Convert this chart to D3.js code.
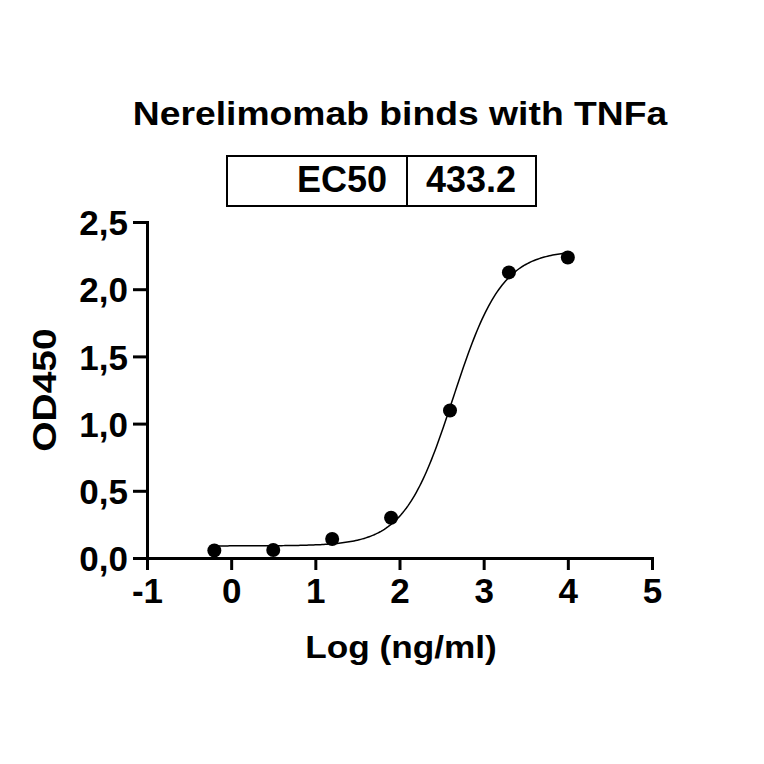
<!DOCTYPE html>
<html>
<head>
<meta charset="utf-8">
<script src="https://cdn.jsdelivr.net/npm/d3@7"></script>
<style>
  body { margin: 0; background: #fff; }
  text { font-family: 'Liberation Sans', Arial, sans-serif; font-weight: bold; fill: #000; }
</style>
</head>
<body>
<svg id="chart" width="764" height="764"></svg>
<script>
// measured points (log ng/ml vs OD450)
const logConc = [-0.2, 0.5, 1.2, 1.9, 2.6, 3.3, 4.0];
const od450 = [0.056, 0.06, 0.141, 0.30, 1.097, 2.125, 2.236];

// 4PL fit
const ec50 = 433.2;
const fitBottom = 0.09;
const fitTop = 2.29;
const hillSlope = 1.5;

const xTicks = [-1, 0, 1, 2, 3, 4, 5];
const yTicks = [0, 0.5, 1.0, 1.5, 2.0, 2.5];

const svg = d3.select('#chart');

const x = d3.scaleLinear().domain([-1, 5]).range([147, 652]);
const y = d3.scaleLinear().domain([0, 2.5]).range([558, 222]);

// Prism style: comma decimals, plain hyphen for negatives
const commaFmt = (d) => d.toFixed(1).replace('.', ',');
const intFmt = (d) => String(d);

// title
svg.append('text')
  .attr('transform', 'translate(400,125) scale(1.13,1)')
  .attr('text-anchor', 'middle')
  .style('font-size', '33px')
  .text('Nerelimomab binds with TNFa');

// EC50 box
const box = svg.append('g');
box.append('rect')
  .attr('x', 227).attr('y', 156)
  .attr('width', 309).attr('height', 50)
  .attr('fill', 'none').attr('stroke', '#000').attr('stroke-width', 2);
box.append('line')
  .attr('x1', 407).attr('x2', 407).attr('y1', 156).attr('y2', 206)
  .attr('stroke', '#000').attr('stroke-width', 2);
box.append('text')
  .attr('x', 387).attr('y', 192)
  .attr('text-anchor', 'end')
  .style('font-size', '36px')
  .text('EC50');
box.append('text')
  .attr('x', 471).attr('y', 192)
  .attr('text-anchor', 'middle')
  .style('font-size', '36px')
  .text(ec50.toFixed(1));

// axes
const yAxis = svg.append('g')
  .attr('transform', `translate(${x(-1)},0)`)
  .call(d3.axisLeft(y).tickValues(yTicks).tickFormat(commaFmt).tickSize(14).tickSizeOuter(0).tickPadding(5));
const xAxis = svg.append('g')
  .attr('transform', `translate(0,${y(0)})`)
  .call(d3.axisBottom(x).tickValues(xTicks).tickFormat(intFmt).tickSize(12).tickSizeOuter(0).tickPadding(7));

[yAxis, xAxis].forEach((g) => {
  g.select('.domain').attr('stroke-width', 3).attr('stroke-linecap', 'square');
  g.selectAll('.tick line').attr('stroke-width', 3);
  g.selectAll('.tick text').style('font-size', '35px').attr('fill', '#000');
});
yAxis.selectAll('.tick text').attr('dy', '0.36em');
xAxis.selectAll('.tick text').attr('dy', '0.74em');

// axis titles
svg.append('text')
  .attr('transform', 'translate(56,390) rotate(-90) scale(1.18,1)')
  .attr('text-anchor', 'middle')
  .style('font-size', '33px')
  .text('OD450');
svg.append('text')
  .attr('transform', 'translate(401,658) scale(1.1,1)')
  .attr('text-anchor', 'middle')
  .style('font-size', '32px')
  .text('Log (ng/ml)');

// fitted curve
const logEc50 = Math.log10(ec50);
const fit = (lx) => fitBottom + (fitTop - fitBottom) / (1 + 10 ** ((logEc50 - lx) * hillSlope));
const curveX = d3.range(d3.min(logConc), d3.max(logConc) + 0.001, 0.02);
svg.append('path')
  .datum(curveX)
  .attr('fill', 'none')
  .attr('stroke', '#000')
  .attr('stroke-width', 1.5)
  .attr('d', d3.line().x((d) => x(d)).y((d) => y(fit(d))));

// data points
svg.append('g')
  .selectAll('circle')
  .data(logConc)
  .join('circle')
  .attr('cx', (d) => x(d))
  .attr('cy', (d, i) => y(od450[i]))
  .attr('r', 7)
  .attr('fill', '#000');
</script>
</body>
</html>
